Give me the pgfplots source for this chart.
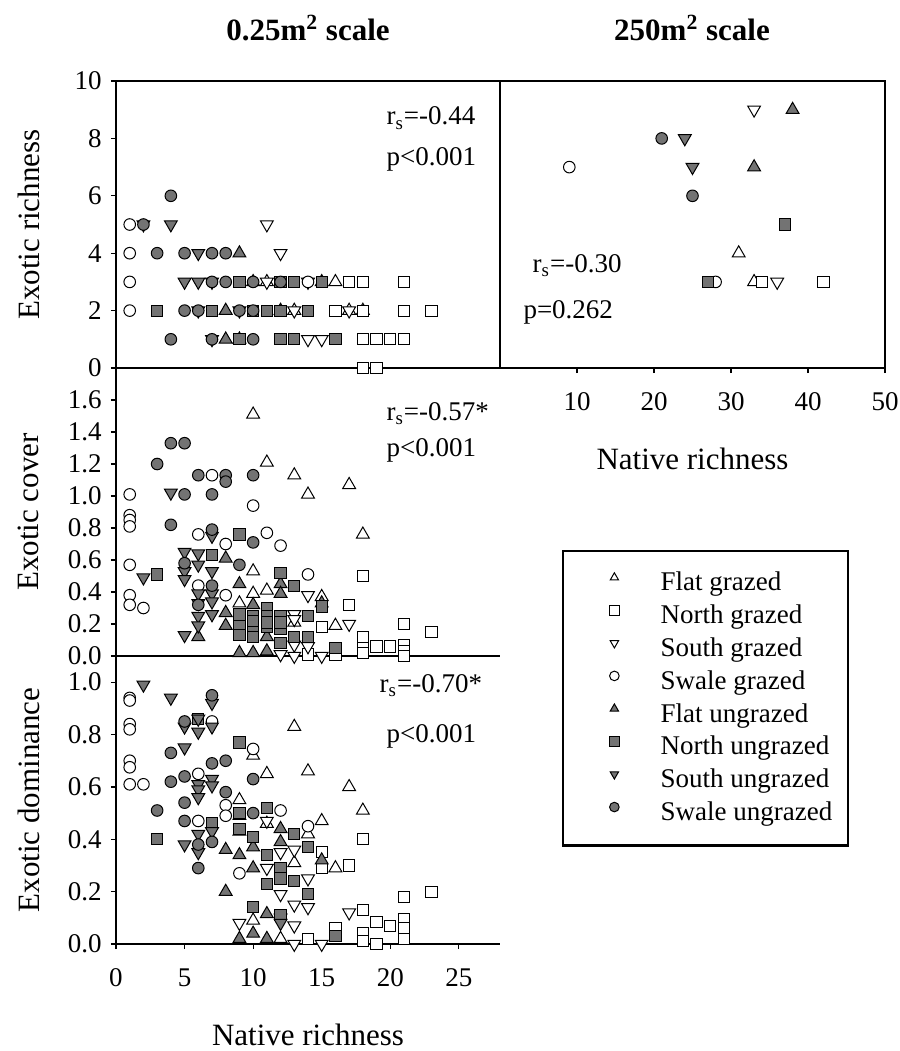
\documentclass[border=0pt]{standalone}
\usepackage{fontspec}
\setmainfont{Liberation Serif}
\usepackage{pgfplots}
\pgfplotsset{compat=1.18}

\definecolor{fillgray}{RGB}{115,115,115}

\tikzset{
  FG/.style={mark=triangle*, mark size=3.7pt, mark options={draw=black, fill=white, line width=0.5pt}},
  NG/.style={mark=square*, mark size=2.8pt, mark options={draw=black, fill=white, line width=0.5pt}},
  SG/.style={mark=triangle*, mark size=3.7pt, mark options={draw=black, fill=white, line width=0.5pt, rotate=180}},
  WG/.style={mark=*, mark size=2.9pt, mark options={draw=black, fill=white, line width=0.5pt}},
  FU/.style={mark=triangle*, mark size=3.7pt, mark options={draw=black, fill=fillgray, line width=0.5pt}},
  NU/.style={mark=square*, mark size=2.8pt, mark options={draw=black, fill=fillgray, line width=0.5pt}},
  SU/.style={mark=triangle*, mark size=3.7pt, mark options={draw=black, fill=fillgray, line width=0.5pt, rotate=180}},
  WU/.style={mark=*, mark size=2.9pt, mark options={draw=black, fill=fillgray, line width=0.5pt}},
  note/.style={anchor=base west, inner sep=0pt},
}

\pgfplotsset{
  panel/.style={
    scale only axis,
    clip=false,
    tick align=outside,
    tick pos=left,
    major tick length=2.5pt,
    /pgf/number format/assume math mode=true,
    axis line style={line width=0.6pt},
    every tick/.style={line width=0.6pt, black},
    xticklabel style={yshift=-5pt},
    label style={font=\fontsize{15.5}{18}\selectfont},
    ylabel style={at={(axis description cs:-0.228,0.5)}, anchor=center},
  },
}

\begin{document}
\fontsize{13.5}{16.2}\selectfont
\begin{tikzpicture}
\path[use as bounding box] (0,0) rectangle (450pt,-525.5pt);

\node[font=\fontsize{15.5}{18}\selectfont\bfseries] at (154pt,-14pt) {0.25m\textsuperscript{2} scale};
\node[font=\fontsize{15.5}{18}\selectfont\bfseries] at (346pt,-14pt) {250m\textsuperscript{2} scale};

% ---------------- top left: exotic richness ----------------
\begin{axis}[panel, at={(58pt,-184pt)}, anchor=south west,
  width=192pt, height=143.5pt, xmin=0, xmax=28, ymin=0, ymax=10,
  xtick=\empty, ytick={0,2,4,6,8,10}, ylabel={Exotic richness}]
\addplot[only marks, FG] coordinates {(11,3) (16,3) (13,2) (17,2) (18,2)};
\addplot[only marks, NG] coordinates {(17,3) (18,3) (21,3) (16,2) (18,2) (21,2) (23,2) (18,1) (19,1) (20,1) (21,1) (18,0) (19,0)};
\addplot[only marks, SG] coordinates {(11,5) (12,4) (11,3) (14,3) (13,2) (17,2) (14,1) (15,1)};
\addplot[only marks, WG] coordinates {(1,5) (1,4) (1,3) (1,2) (14,3)};
\addplot[only marks, FU] coordinates {(9,4) (10,3) (15,3) (8,2) (12,2) (8,1) (9,1)};
\addplot[only marks, NU] coordinates {(9,3) (12,3) (13,3) (15,3) (3,2) (7,2) (10,2) (11,2) (12,2) (14,2) (9,1) (12,1) (13,1) (16,1)};
\addplot[only marks, SU] coordinates {(2,5) (4,5) (6,4) (5,3) (6,3) (7,3) (6,2) (9,2) (7,1)};
\addplot[only marks, WU] coordinates {(4,6) (2,5) (3,4) (5,4) (7,4) (8,4) (7,3) (8,3) (10,3) (12,3) (5,2) (6,2) (9,2) (10,2) (4,1) (7,1) (10,1)};
\node[note] at (axis cs:19.7,8.47) {r\textsubscript{s}=-0.44};
\node[note] at (axis cs:19.7,7.07) {p<0.001};
\end{axis}

% ---------------- middle left: exotic cover ----------------
\begin{axis}[panel, at={(58pt,-328pt)}, anchor=south west,
  width=192pt, height=144pt, xmin=0, xmax=28, ymin=0, ymax=1.8,
  axis x line*=bottom, axis y line*=left,
  xtick=\empty, ytick={0,0.2,0.4,0.6,0.8,1.0,1.2,1.4,1.6},
  yticklabels={0.0,0.2,0.4,0.6,0.8,1.0,1.2,1.4,1.6}, ylabel={Exotic cover}]
\addplot[only marks, FG] coordinates {(10,1.51) (11,1.21) (13,1.13) (14,1.01) (17,1.07) (18,0.76) (10,0.53) (10,0.39) (11,0.41) (9,0.33) (15,0.37) (13,0.21) (16,0.19)};
\addplot[only marks, NG] coordinates {(18,0.50) (17,0.32) (15,0.18) (21,0.20) (23,0.15) (18,0.12) (14,0.01) (16,0.05) (16,0.01) (18,0.05) (18,0.02) (19,0.06) (20,0.06) (21,0.07) (21,0.03) (21,0.0)};
\addplot[only marks, SG] coordinates {(14,0.38) (13,0.26) (17,0.20) (13,0.07) (14,0.06) (12,0.01) (13,0.0) (15,0.0) (13,0.23)};
\addplot[only marks, WG] coordinates {(7,1.13) (10,0.94) (1,1.01) (1,0.88) (1,0.85) (1,0.81) (6,0.76) (8,0.70) (11,0.77) (12,0.69) (1,0.57) (14,0.51) (6,0.44) (8,0.38) (1,0.38) (1,0.32) (2,0.30)};
\addplot[only marks, FU] coordinates {(8,0.61) (9,0.45) (12,0.45) (12,0.39) (15,0.33) (10,0.32) (8,0.27) (8,0.19) (6,0.12) (11,0.12) (9,0.02) (10,0.02) (11,0.03)};
\addplot[only marks, NU] coordinates {(9,0.76) (7,0.63) (3,0.51) (12,0.52) (13,0.44) (15,0.31) (11,0.30) (9,0.26) (10,0.25) (11,0.25) (12,0.25) (14,0.25) (9,0.19) (10,0.18) (11,0.18) (12,0.17) (9,0.13) (10,0.12) (12,0.08) (13,0.12) (14,0.12) (16,0.05) (10,0.22) (11,0.21) (12,0.21)};
\addplot[only marks, SU] coordinates {(4,1.02) (7,0.75) (5,0.65) (6,0.64) (6,0.57) (5,0.53) (7,0.53) (2,0.49) (5,0.48) (6,0.39) (7,0.39) (6,0.33) (6,0.25) (7,0.26) (6,0.19) (5,0.13) (7,0.34)};
\addplot[only marks, WU] coordinates {(4,1.33) (5,1.33) (3,1.20) (6,1.13) (8,1.13) (8,1.09) (10,1.13) (5,1.01) (7,1.01) (4,0.82) (7,0.79) (10,0.71) (5,0.58) (9,0.57) (7,0.44) (6,0.32)};
\node[note] at (axis cs:19.7,1.475) {r\textsubscript{s}=-0.57*};
\node[note] at (axis cs:19.7,1.244) {p<0.001};
\end{axis}

% ---------------- bottom left: exotic dominance ----------------
\begin{axis}[panel, at={(58pt,-472pt)}, anchor=south west,
  width=192pt, height=144pt, xmin=0, xmax=28, ymin=0, ymax=1.1,
  axis x line*=bottom, axis y line*=left,
  xtick={0,5,10,15,20,25}, ytick={0,0.2,0.4,0.6,0.8,1.0},
  yticklabels={0.0,0.2,0.4,0.6,0.8,1.0}, ylabel={Exotic dominance},
  xlabel={Native richness},
  xlabel style={at={(axis description cs:0.5,-0.316)}, anchor=center}]
\addplot[only marks, FG] coordinates {(13,0.83) (10,0.72) (11,0.65) (14,0.66) (17,0.60) (18,0.51) (9,0.55) (15,0.47) (14,0.42) (13,0.31) (16,0.29) (10,0.09) (12,0.02) (11,0.46)};
\addplot[only marks, NG] coordinates {(18,0.40) (15,0.35) (15,0.29) (17,0.30) (21,0.18) (23,0.20) (18,0.13) (19,0.085) (20,0.07) (21,0.095) (21,0.06) (21,0.02) (14,0.02) (16,0.06) (18,0.04) (18,0.01) (19,0.0)};
\addplot[only marks, SG] coordinates {(11,0.47) (11,0.29) (12,0.35) (13,0.36) (14,0.25) (12,0.19) (13,0.15) (14,0.14) (9,0.08) (13,0.07) (17,0.12) (13,0.0) (15,0.0) (12,0.10)};
\addplot[only marks, WG] coordinates {(1,0.94) (1,0.93) (1,0.84) (1,0.82) (7,0.85) (10,0.745) (1,0.70) (1,0.675) (1,0.61) (2,0.61) (6,0.65) (8,0.53) (8,0.49) (12,0.51) (6,0.47) (14,0.45) (9,0.27)};
\addplot[only marks, FU] coordinates {(9,0.43) (8,0.36) (9,0.34) (10,0.37) (10,0.29) (12,0.44) (12,0.39) (15,0.32) (8,0.20) (11,0.115) (9,0.02) (10,0.04) (11,0.02) (9,0.49)};
\addplot[only marks, NU] coordinates {(9,0.77) (3,0.40) (9,0.50) (9,0.44) (11,0.52) (7,0.46) (10,0.41) (13,0.42) (14,0.37) (11,0.34) (12,0.29) (12,0.25) (13,0.24) (11,0.23) (14,0.19) (10,0.14) (12,0.11) (16,0.03) (6,0.86)};
\addplot[only marks, SU] coordinates {(2,0.99) (4,0.94) (7,0.92) (6,0.86) (5,0.83) (7,0.83) (6,0.81) (5,0.75) (6,0.61) (6,0.59) (6,0.56) (7,0.63) (7,0.605) (7,0.43) (5,0.38) (6,0.35) (6,0.42) (12,0.08)};
\addplot[only marks, WU] coordinates {(7,0.95) (5,0.85) (4,0.73) (7,0.69) (8,0.70) (4,0.62) (5,0.64) (8,0.58) (10,0.63) (5,0.54) (10,0.50) (3,0.51) (5,0.47) (6,0.38) (7,0.39) (6,0.29)};
\node[note] at (axis cs:19.2,0.96) {r\textsubscript{s}=-0.70*};
\node[note] at (axis cs:19.7,0.77) {p<0.001};
\end{axis}

% ---------------- top right: 250 m2 ----------------
\begin{axis}[panel, at={(250pt,-184pt)}, anchor=south west,
  width=192.5pt, height=143.5pt, xmin=0, xmax=50, ymin=0, ymax=10,
  xtick={10,20,30,40,50}, ytick=\empty,
  xlabel={Native richness},
  xlabel style={at={(axis description cs:0.5,-0.317)}, anchor=center},
  legend cell align=left,
  legend style={at={(0.161,-0.634)}, anchor=north west, draw=black, line width=1.2pt,
    fill=white, inner xsep=8pt, inner ysep=10.5pt, row sep=5pt, column sep=20pt,
    nodes={inner sep=0pt}},
  legend image code/.code={\path (-17pt,0pt) (2.5pt,0pt);
    \draw[#1, mark size=2.4pt] plot coordinates {(0pt,3pt)};}]
\addplot[only marks, FG] coordinates {(31,4) (33,3)};
\addlegendentry{Flat grazed}
\addplot[only marks, NG] coordinates {(34,3) (42,3)};
\addlegendentry{North grazed}
\addplot[only marks, SG] coordinates {(33,9) (36,3)};
\addlegendentry{South grazed}
\addplot[only marks, WG] coordinates {(9,7) (28,3)};
\addlegendentry{Swale grazed}
\addplot[only marks, FU] coordinates {(38,9) (33,7)};
\addlegendentry{Flat ungrazed}
\addplot[only marks, NU] coordinates {(37,5) (27,3)};
\addlegendentry{North ungrazed}
\addplot[only marks, SU] coordinates {(24,8) (25,7)};
\addlegendentry{South ungrazed}
\addplot[only marks, WU] coordinates {(21,8) (25,6)};
\addlegendentry{Swale ungrazed}
\node[note] at (axis cs:4.2,3.34) {r\textsubscript{s}=-0.30};
\node[note] at (axis cs:3.0,1.74) {p=0.262};
\end{axis}
\end{tikzpicture}
\end{document}
